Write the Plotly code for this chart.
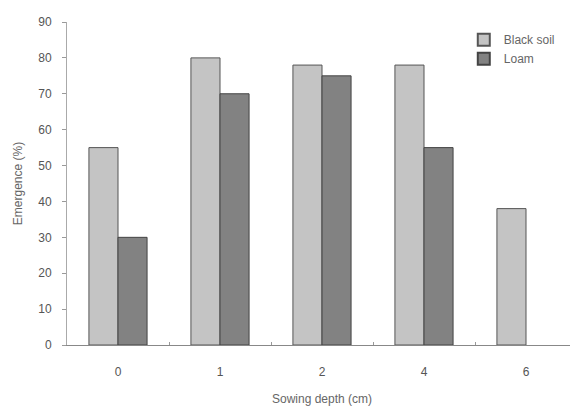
import plotly.graph_objects as go

categories = ["0", "1", "2", "4", "6"]
black_soil = [55, 80, 78, 78, 38]
loam = [30, 70, 75, 55, None]
y_ticks = [0, 10, 20, 30, 40, 50, 60, 70, 80, 90]

fig = go.Figure()
fig.add_trace(go.Bar(x=categories, y=black_soil, name="Black soil",
                     marker=dict(color="#c4c4c4", line=dict(color="#555555", width=1))))
fig.add_trace(go.Bar(x=categories, y=loam, name="Loam",
                     marker=dict(color="#828282", line=dict(color="#444444", width=1))))

fig.update_layout(
    width=570, height=398,
    margin=dict(l=59, r=1, t=14, b=61, autoexpand=False),
    paper_bgcolor="white", plot_bgcolor="white",
    barmode="group", bargap=0.43, bargroupgap=0,
    font=dict(family="Liberation Sans, Arial", size=12, color="#555555"),
    showlegend=True,
    legend=dict(x=0.778, y=0.99, xanchor="left", yanchor="top",
                bgcolor="rgba(0,0,0,0)", font=dict(size=12, color="#666666"),
                itemsizing="constant", itemwidth=30, tracegroupgap=0),
)
fig.update_xaxes(
    title=dict(text="Sowing depth (cm)", standoff=27, font=dict(size=12, color="#666666")),
    showline=True, linecolor="#888888", linewidth=1,
    ticks="inside", tickson="boundaries", ticklen=3, tickcolor="#999999",
    ticklabelstandoff=16,
    showgrid=False, range=[-0.5, 4.5], automargin=False,
)
fig.update_yaxes(
    title=dict(text="Emergence (%)", standoff=13, font=dict(size=12, color="#666666")),
    range=[0, 90], tickvals=y_ticks,
    showline=True, linecolor="#aaaaaa", linewidth=1,
    ticks="outside", ticklen=4, tickcolor="#999999",
    ticklabelstandoff=8,
    showgrid=False, zeroline=False, automargin=False,
)
fig.write_html("out.html")
